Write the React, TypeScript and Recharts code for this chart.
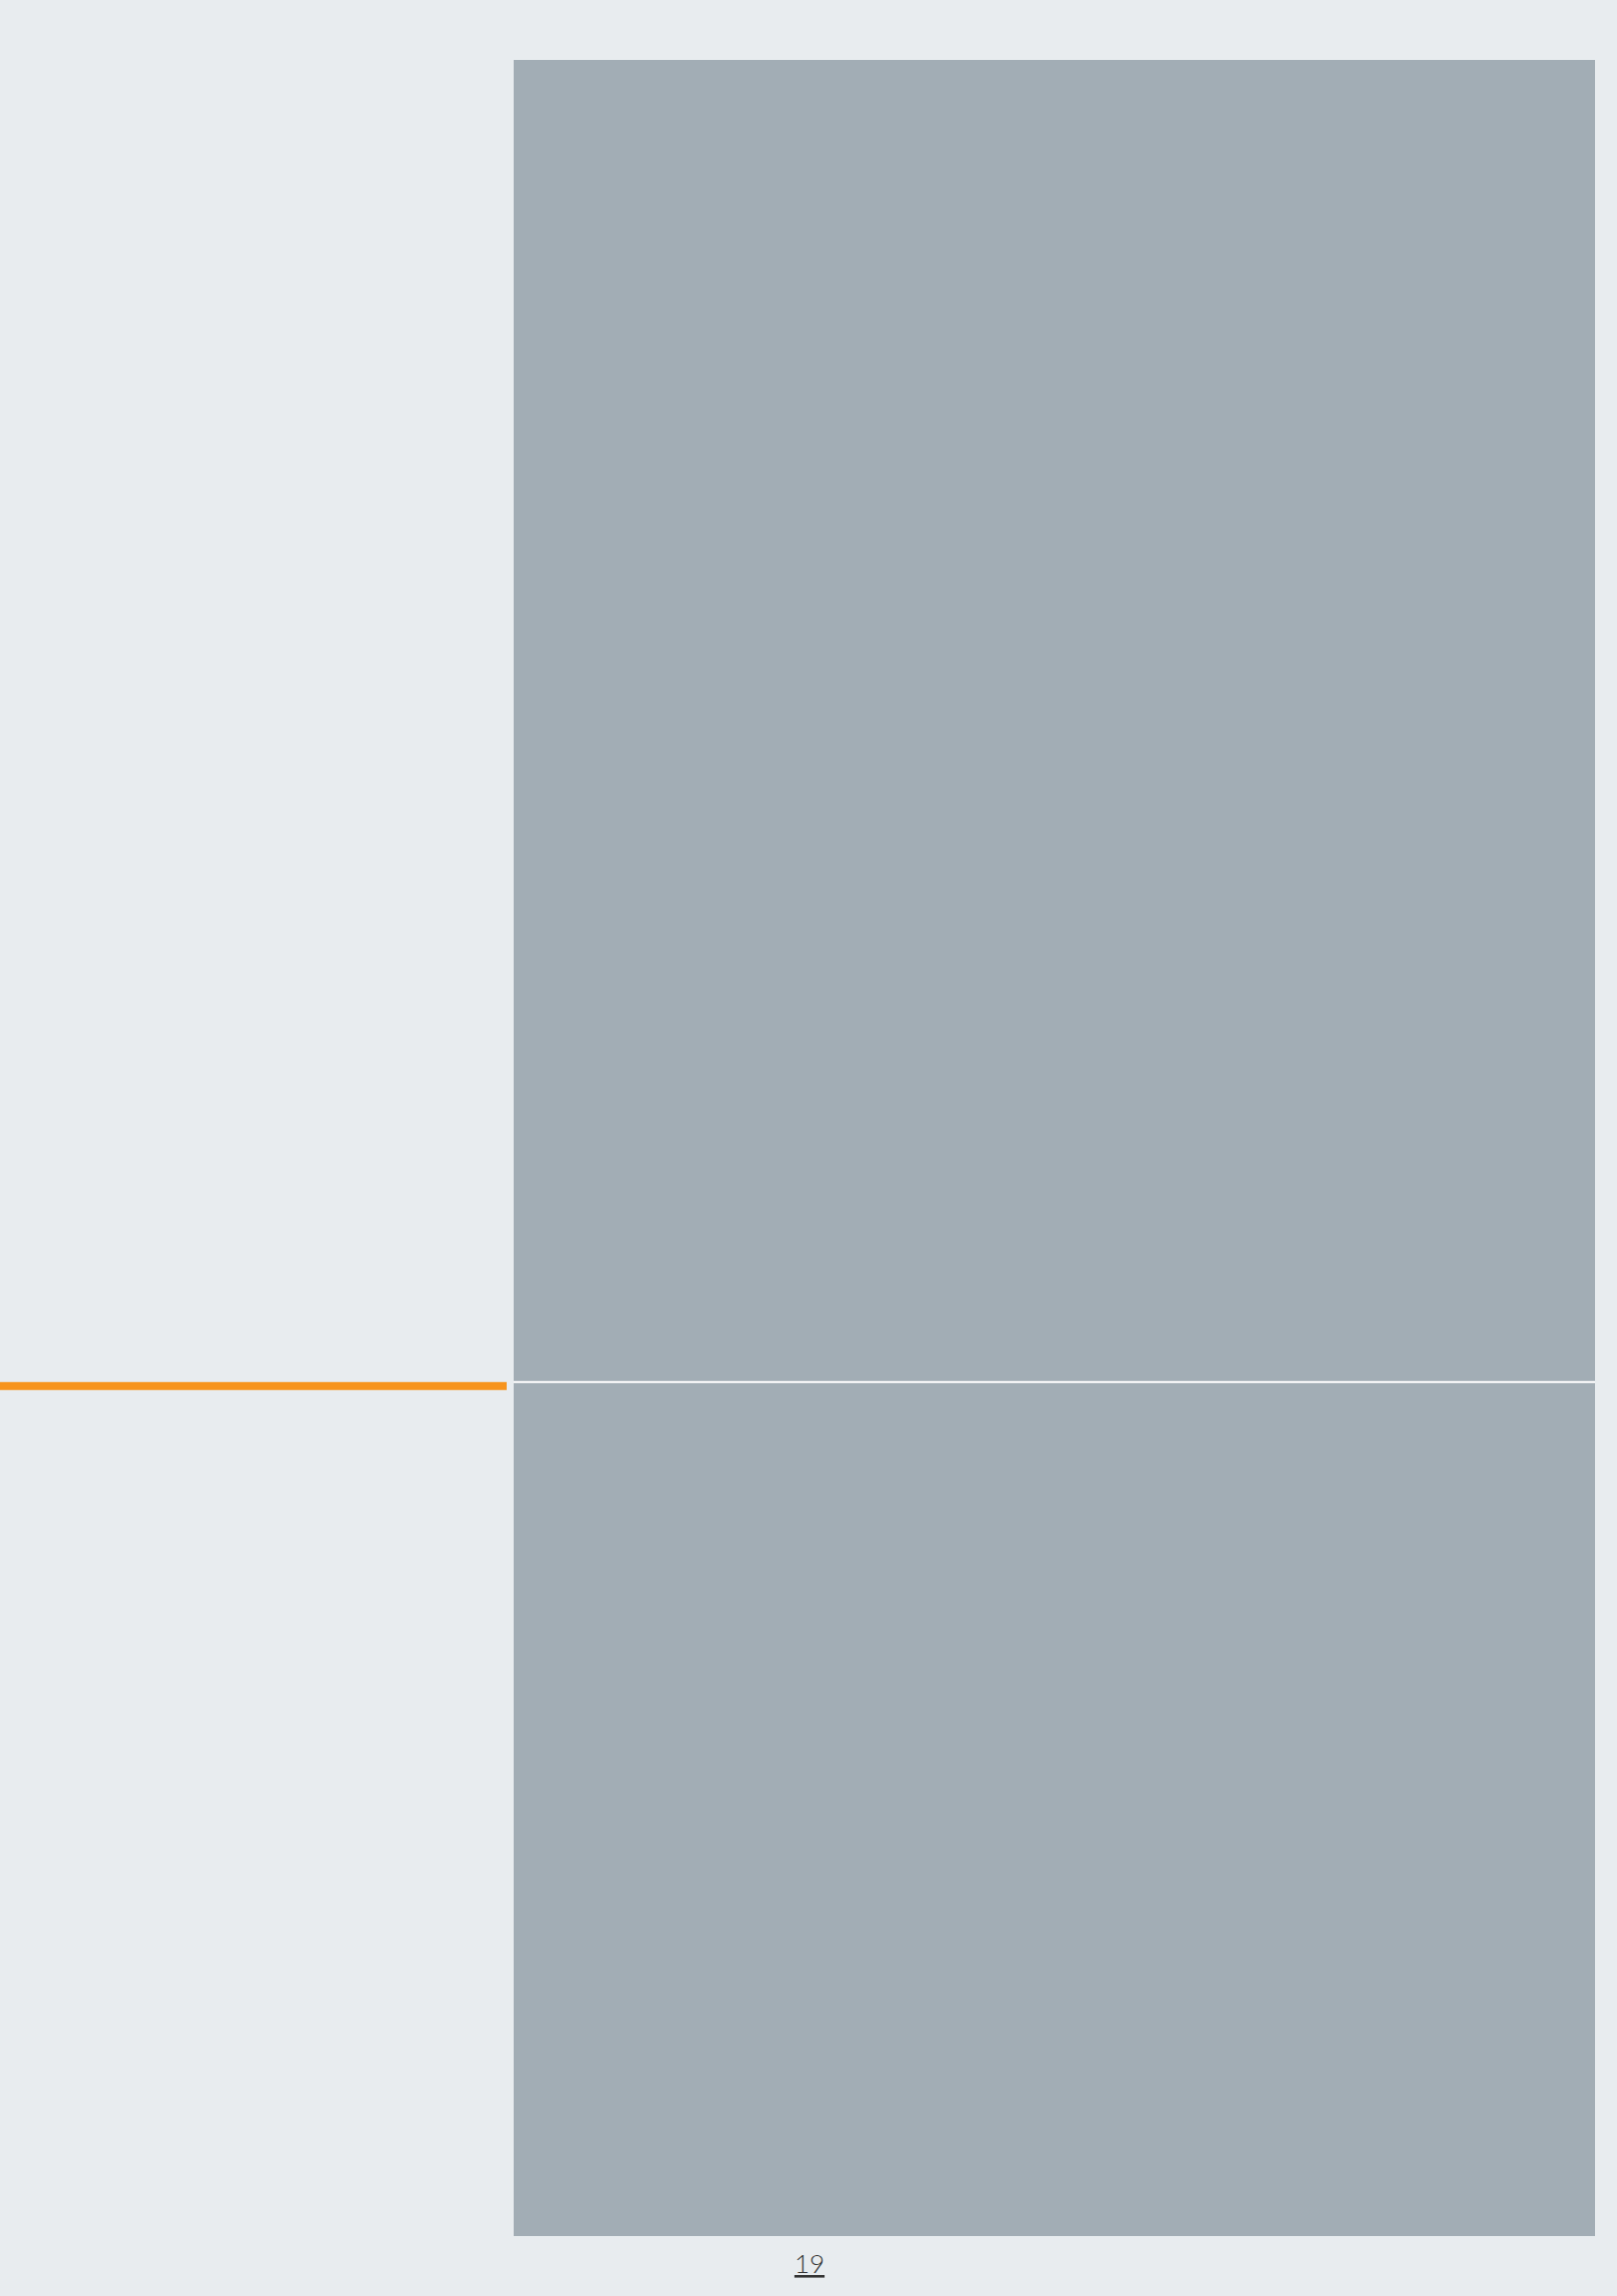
import React from 'react';
import { BarChart, Bar, XAxis, YAxis, ReferenceLine } from 'recharts';

const categories = ['page'];
const lowerShare = [39.25];
const upperShare = [60.75];
const pageNumber = '19';

const data = categories.map((c, i) => ({ name: c, lower: lowerShare[i], upper: upperShare[i] }));

const BG = '#E8ECEF';
const GRAY = '#A2ADB5';
const ORANGE = '#F7941D';

const SplitShape = (props: any) => {
  const { x1, y1, x2 } = props;
  return (
    <g>
      <line x1={0} x2={x1 - 7} y1={y1 + 4} y2={y1 + 4} stroke={ORANGE} strokeWidth={8} />
      <line x1={x1} x2={x2} y1={y1} y2={y1} stroke="#FFFFFF" strokeWidth={2} />
    </g>
  );
};

export default function App() {
  return (
    <div style={{ position: 'absolute', left: 0, top: 0, width: 1618, height: 2298, background: BG, overflow: 'hidden' }}>
      <BarChart
        width={1618}
        height={2298}
        data={data}
        margin={{ top: 60, right: 22, left: 514, bottom: 60 }}
        barCategoryGap={0}
        barGap={0}
      >
        <XAxis dataKey="name" hide />
        <YAxis hide domain={[0, 100]} />
        <Bar dataKey="lower" stackId="a" fill={GRAY} isAnimationActive={false} />
        <Bar dataKey="upper" stackId="a" fill={GRAY} isAnimationActive={false} />
        <ReferenceLine y={lowerShare[0]} ifOverflow="visible" shape={SplitShape} />
      </BarChart>
      <svg width={1618} height={2298} style={{ position: 'absolute', left: 0, top: 0, pointerEvents: 'none' }}>
        <text
          x={810}
          y={2275}
          textAnchor="middle"
          fontFamily="Lato, 'Open Sans', sans-serif"
          fontWeight={300}
          fontSize={26}
          fill="#333333"
          style={{ textDecoration: 'underline' }}
        >
          {pageNumber}
        </text>
      </svg>
    </div>
  );
}
